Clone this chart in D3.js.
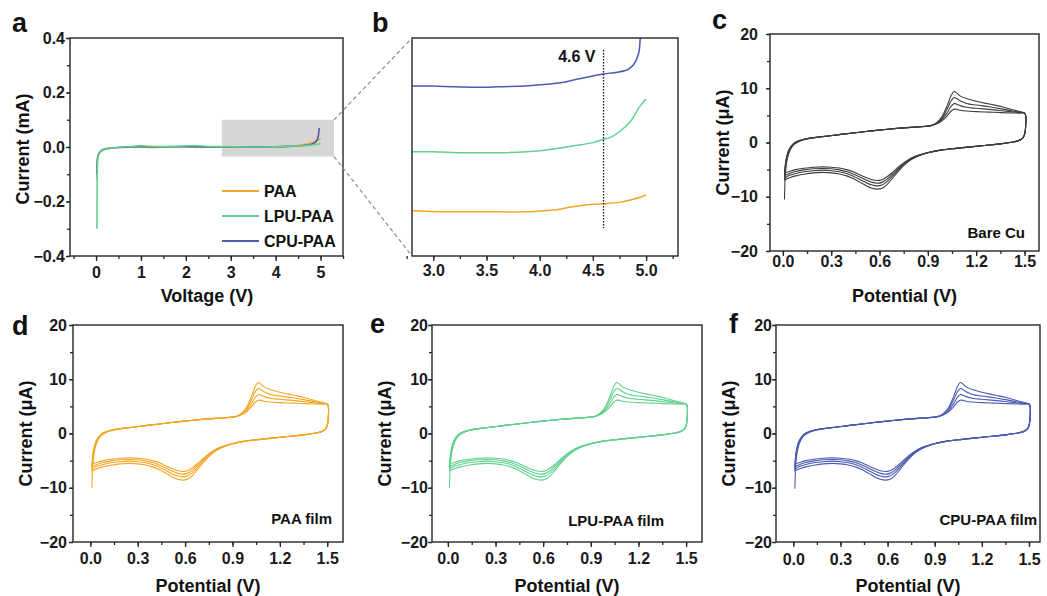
<!DOCTYPE html>
<html>
<head>
<meta charset="utf-8">
<script src="https://cdn.jsdelivr.net/npm/d3@7"></script>
<style>
  body { margin: 0; background: #fff; }
  svg { display: block; font-family: "Liberation Sans", Arial, sans-serif; font-weight: bold; }
</style>
</head>
<body>
<svg id="fig" width="1047" height="596"></svg>
<script>
// ---------- LSV data (panel a): [voltage V, current mA] ----------
const lsvNames = ["PAA", "LPU-PAA", "CPU-PAA"];
const lsvPAA = [[0.02,-0.12],[0.025,-0.06],[0.04,-0.032],[0.08,-0.02],[0.15,-0.011],[0.3,-0.005],[0.5,-0.002],[1.0,0.0],[1.2,-0.002],[1.5,0.0],[2.0,0.001],[2.5,0.0],[3.0,0.0],[3.5,0.0],[4.0,0.001],[4.3,0.003],[4.6,0.008],[4.8,0.015],[4.95,0.025],[5.0,0.03]];
const lsvLPU = [[0.02,-0.30],[0.022,-0.2],[0.028,-0.09],[0.04,-0.04],[0.08,-0.022],[0.15,-0.012],[0.3,-0.005],[0.5,-0.001],[0.8,0.002],[1.0,0.005],[1.2,0.003],[1.5,0.002],[2.0,0.004],[2.2,0.005],[2.5,0.002],[3.0,0.001],[3.5,0.0],[4.0,0.001],[4.5,0.004],[4.8,0.007],[5.0,0.012]];
const lsvCPU = [[0.02,-0.1],[0.03,-0.045],[0.08,-0.02],[0.2,-0.007],[0.5,-0.002],[1.0,0.001],[2.0,0.001],[3.0,0.0],[4.0,0.001],[4.5,0.004],[4.8,0.01],[4.9,0.02],[4.95,0.04],[4.97,0.07]];
const lsvXTicks = [0, 1, 2, 3, 4, 5];
const lsvYTicks = [-0.4, -0.2, 0.0, 0.2, 0.4];
const zoomWindow = { x0: 2.8, x1: 5.3, y0: -0.035, y1: 0.1 };

// ---------- Magnified, vertically offset curves (panel b): [voltage V, offset current a.u.] ----------
const zoomPAA = [[2.8,20.8],[3.0,20.4],[3.5,20.3],[3.88,20.3],[4.13,21.1],[4.31,22.6],[4.5,23.7],[4.6,24.0],[4.75,24.6],[4.88,26.0],[5.0,28.0]];
const zoomLPU = [[2.8,47.8],[3.0,47.8],[3.28,47.4],[3.63,47.4],[4.0,48.3],[4.31,50.5],[4.5,52.0],[4.6,53.5],[4.66,54.3],[4.75,57.0],[4.85,61.6],[4.94,68.5],[5.0,72.0]];
const zoomCPU = [[2.8,78.0],[3.0,78.0],[3.2,77.6],[3.4,77.4],[3.6,77.6],[3.9,78.1],[4.15,79.2],[4.32,80.7],[4.5,82.6],[4.6,83.5],[4.7,84.1],[4.82,85.3],[4.88,87.6],[4.93,93.0],[4.945,100],[4.95,106]];
const zoomXTicks = [3.0, 3.5, 4.0, 4.5, 5.0];
const onsetV = 4.6;
const onsetSpan = [12.8, 94.5];

// ---------- CV cycles (panels c-f): [potential V, current µA] ----------
const cvCycle1 = [[0.01,-10.5],[0.012,-8.0],[0.015,-6.0],[0.02,-4.4],[0.027,-3.1],[0.037,-2.0],[0.05,-1.1],[0.07,-0.35],[0.1,0.2],[0.14,0.6],[0.2,0.9],[0.28,1.2],[0.36,1.5],[0.45,1.8],[0.55,2.15],[0.65,2.45],[0.75,2.7],[0.84,2.85],[0.9,3.0],
  [0.93,3.2],[0.96,3.8],[0.99,4.9],[1.02,6.8],[1.045,8.7],[1.062,9.4],[1.08,9.1],[1.1,8.6],[1.14,8.1],[1.2,7.6],[1.28,7.1],[1.36,6.6],[1.42,6.1],[1.47,5.7],[1.5,5.45],
  [1.507,5.0],[1.508,3.6],[1.505,2.2],[1.498,1.3],[1.485,0.7],[1.46,0.3],[1.42,0.05],[1.35,-0.25],[1.25,-0.55],[1.15,-0.85],[1.05,-1.15],[0.97,-1.45],[0.9,-1.9],[0.85,-2.4],[0.8,-3.1],[0.76,-4.0],[0.72,-5.2],[0.68,-6.6],[0.645,-7.8],[0.615,-8.45],[0.585,-8.6],[0.555,-8.45],[0.52,-8.0],[0.48,-7.35],[0.44,-6.7],[0.4,-6.2],[0.35,-5.8],[0.3,-5.6],[0.25,-5.5],[0.19,-5.6],[0.13,-5.85],[0.08,-6.15],[0.045,-6.45],[0.025,-6.7],[0.01,-7.0]];
const cvCycle2 = [[0.01,-7.0],[0.013,-5.4],[0.018,-4.0],[0.025,-2.8],[0.035,-1.8],[0.05,-0.95],[0.07,-0.25],[0.1,0.25],[0.14,0.62],[0.2,0.92],[0.28,1.2],[0.36,1.5],[0.45,1.8],[0.55,2.15],[0.65,2.45],[0.75,2.7],[0.84,2.87],[0.9,3.02],
  [0.93,3.2],[0.96,3.7],[0.99,4.6],[1.02,6.2],[1.045,7.7],[1.063,8.3],[1.08,8.1],[1.1,7.7],[1.14,7.2],[1.2,6.9],[1.28,6.6],[1.36,6.2],[1.42,5.85],[1.47,5.6],[1.5,5.45],
  [1.507,5.0],[1.508,3.6],[1.505,2.2],[1.498,1.3],[1.485,0.7],[1.46,0.3],[1.42,0.05],[1.35,-0.25],[1.25,-0.55],[1.15,-0.85],[1.05,-1.15],[0.97,-1.45],[0.9,-1.9],[0.85,-2.35],[0.8,-3.0],[0.76,-3.85],[0.72,-4.95],[0.68,-6.2],[0.645,-7.25],[0.615,-7.85],[0.585,-8.0],[0.555,-7.85],[0.52,-7.45],[0.48,-6.85],[0.44,-6.25],[0.4,-5.75],[0.35,-5.4],[0.3,-5.2],[0.25,-5.1],[0.19,-5.2],[0.13,-5.4],[0.08,-5.7],[0.045,-6.0],[0.025,-6.3],[0.01,-6.5]];
const cvCycle3 = [[0.01,-6.5],[0.013,-5.0],[0.018,-3.7],[0.025,-2.6],[0.035,-1.6],[0.05,-0.8],[0.07,-0.15],[0.1,0.3],[0.14,0.65],[0.2,0.93],[0.28,1.2],[0.36,1.5],[0.45,1.8],[0.55,2.15],[0.65,2.45],[0.75,2.7],[0.84,2.88],[0.9,3.03],
  [0.93,3.2],[0.96,3.6],[0.99,4.3],[1.02,5.5],[1.045,6.7],[1.064,7.2],[1.08,7.05],[1.1,6.8],[1.14,6.5],[1.2,6.3],[1.28,6.1],[1.36,5.85],[1.42,5.65],[1.47,5.5],[1.5,5.45],
  [1.507,5.0],[1.508,3.6],[1.505,2.2],[1.498,1.3],[1.485,0.7],[1.46,0.3],[1.42,0.05],[1.35,-0.25],[1.25,-0.55],[1.15,-0.85],[1.05,-1.15],[0.97,-1.45],[0.9,-1.88],[0.85,-2.3],[0.8,-2.9],[0.76,-3.7],[0.72,-4.7],[0.68,-5.85],[0.645,-6.8],[0.615,-7.35],[0.585,-7.5],[0.555,-7.35],[0.52,-6.95],[0.48,-6.4],[0.44,-5.85],[0.4,-5.4],[0.35,-5.05],[0.3,-4.85],[0.25,-4.8],[0.19,-4.85],[0.13,-5.05],[0.08,-5.35],[0.045,-5.65],[0.025,-5.9],[0.01,-6.1]];
const cvCycle4 = [[0.01,-6.1],[0.013,-4.7],[0.018,-3.4],[0.025,-2.4],[0.035,-1.45],[0.05,-0.7],[0.07,-0.1],[0.1,0.35],[0.14,0.67],[0.2,0.94],[0.28,1.2],[0.36,1.5],[0.45,1.8],[0.55,2.15],[0.65,2.45],[0.75,2.7],[0.84,2.9],[0.9,3.05],
  [0.93,3.2],[0.96,3.5],[0.99,4.05],[1.02,4.9],[1.045,5.8],[1.065,6.15],[1.08,6.1],[1.1,5.95],[1.14,5.8],[1.2,5.7],[1.28,5.6],[1.36,5.5],[1.42,5.45],[1.47,5.42],[1.5,5.4],
  [1.507,5.0],[1.508,3.6],[1.505,2.2],[1.498,1.3],[1.485,0.7],[1.46,0.3],[1.42,0.05],[1.35,-0.25],[1.25,-0.55],[1.15,-0.85],[1.05,-1.15],[0.97,-1.45],[0.9,-1.85],[0.85,-2.25],[0.8,-2.8],[0.76,-3.55],[0.72,-4.45],[0.68,-5.5],[0.645,-6.35],[0.615,-6.85],[0.585,-7.0],[0.555,-6.85],[0.52,-6.5],[0.48,-6.0],[0.44,-5.45],[0.4,-5.05],[0.35,-4.7],[0.3,-4.55],[0.25,-4.5],[0.19,-4.55],[0.13,-4.75],[0.08,-5.0],[0.045,-5.3],[0.025,-5.5],[0.01,-5.6]];
const cvStartCurrent = [-10.5, -10.0, -10.0, -10.2];   // first point of cycle 1 per electrode
const cvLabels = ["Bare Cu", "PAA film", "LPU-PAA film", "CPU-PAA film"];
const cvXTicks = [0.0, 0.3, 0.6, 0.9, 1.2, 1.5];
const cvYTicks = [-20, -10, 0, 10, 20];

// ---------- styling ----------
const colPAA = "#f3a624", colLPU = "#62d08f", colCPU = "#4a5bb0", colCu = "#3d3d3d";
const ink = "#262626";

const svg = d3.select("#fig");
let clipId = 0;

function panel(box, xDom, yDom, ax) {
  const g = svg.append("g");
  const x = d3.scaleLinear().domain(xDom).range([box.x0, box.x1]);
  const y = d3.scaleLinear().domain(yDom).range([box.y1, box.y0]);
  const id = "clip" + (clipId++);
  g.append("clipPath").attr("id", id).append("rect")
    .attr("x", box.x0).attr("y", box.y0).attr("width", box.x1 - box.x0).attr("height", box.y1 - box.y0);
  const plot = g.append("g").attr("clip-path", `url(#${id})`);

  const style = sel => {
    sel.select(".domain").remove();
    sel.selectAll("line").attr("stroke", ink).attr("stroke-width", 1.3);
    sel.selectAll("text").attr("fill", "#1a1a1a").style("font-size", "16px")
      .style("font-weight", "bold").style("font-family", '"Liberation Sans", Arial, sans-serif');
  };
  const bx = g.append("g").attr("transform", `translate(0,${box.y1})`);
  bx.append("g").call(d3.axisBottom(x).tickValues(ax.xMinor).tickSize(3).tickFormat("")).call(style);
  bx.append("g").call(d3.axisBottom(x).tickValues(ax.xTicks).tickSize(5).tickPadding(ax.xPad).tickFormat(ax.xFmt)).call(style);
  if (ax.yTicks) {
    const by = g.append("g").attr("transform", `translate(${box.x0},0)`);
    by.append("g").call(d3.axisLeft(y).tickValues(ax.yMinor).tickSize(3).tickFormat("")).call(style);
    by.append("g").call(d3.axisLeft(y).tickValues(ax.yTicks).tickSize(4).tickPadding(ax.yPad).tickFormat(ax.yFmt)).call(style);
  }
  return { g, plot, x, y, box };
}

function frame(p) {
  p.g.append("rect").attr("x", p.box.x0).attr("y", p.box.y0)
    .attr("width", p.box.x1 - p.box.x0).attr("height", p.box.y1 - p.box.y0)
    .attr("fill", "none").attr("stroke", ink).attr("stroke-width", 1.4);
}

function text(str, x, y, size, anchor, rotate) {
  const t = svg.append("text").text(str).attr("fill", "#111")
    .style("font-size", size + "px").attr("text-anchor", anchor || "start");
  if (rotate) t.attr("transform", `translate(${x},${y}) rotate(-90)`);
  else t.attr("x", x).attr("y", y);
  return t;
}

const range = (a, b, s) => d3.range(a, b + s / 2, s);

// ---------- panel a ----------
const pa = panel({ x0: 70, x1: 343, y0: 38, y1: 256 }, [-0.58, 5.5], [-0.4, 0.4], {
  xTicks: lsvXTicks, xMinor: range(-0.5, 5.5, 0.5), xPad: 6, xFmt: d3.format("d"),
  yTicks: lsvYTicks, yMinor: range(-0.4, 0.4, 0.1), yFmt: d3.format(".1f"), yPad: 1
});
pa.plot.append("rect")
  .attr("x", pa.x(zoomWindow.x0)).attr("y", pa.y(zoomWindow.y1))
  .attr("width", pa.x(zoomWindow.x1) - pa.x(zoomWindow.x0))
  .attr("height", pa.y(zoomWindow.y0) - pa.y(zoomWindow.y1))
  .attr("fill", "#d6d6d6");
const lineA = d3.line().x(d => pa.x(d[0])).y(d => pa.y(d[1])).curve(d3.curveMonotoneX);
[[lsvPAA, colPAA], [lsvCPU, colCPU], [lsvLPU, colLPU]].forEach(([d, c]) => {
  pa.plot.append("path").datum(d).attr("d", lineA).attr("fill", "none").attr("stroke", c).attr("stroke-width", 1.6);
});
frame(pa);
// legend
[[lsvNames[0], colPAA], [lsvNames[1], colLPU], [lsvNames[2], colCPU]].forEach(([n, c], i) => {
  const yy = 191 + i * 25;
  svg.append("line").attr("x1", 222).attr("x2", 259).attr("y1", yy).attr("y2", yy)
    .attr("stroke", c).attr("stroke-width", 1.8);
  text(n, 264, yy + 6, 16);
});
text("Current (mA)", 29, 149, 18, "middle", true);
text("Voltage (V)", 207, 302, 18, "middle");
text("a", 12, 32, 27);

// ---------- panel b ----------
const pb = panel({ x0: 412, x1: 678, y0: 38, y1: 256 }, [zoomWindow.x0, zoomWindow.x1], [0, 100], {
  xTicks: zoomXTicks, xMinor: range(2.75, 5.25, 0.25), xPad: 4, xFmt: d3.format(".1f")
});
const lineB = d3.line().x(d => pb.x(d[0])).y(d => pb.y(d[1])).curve(d3.curveCatmullRom.alpha(0.5));
[[zoomPAA, colPAA], [zoomLPU, colLPU], [zoomCPU, colCPU]].forEach(([d, c]) => {
  pb.plot.append("path").datum(d).attr("d", lineB).attr("fill", "none").attr("stroke", c).attr("stroke-width", 1.5);
});
pb.plot.append("line").attr("x1", pb.x(onsetV)).attr("x2", pb.x(onsetV))
  .attr("y1", pb.y(onsetSpan[1])).attr("y2", pb.y(onsetSpan[0]))
  .attr("stroke", "#111").attr("stroke-width", 1.3).attr("stroke-dasharray", "1.5,1.5");
frame(pb);
text(onsetV + " V", pb.x(onsetV) - 8, 62, 16, "end");
text("b", 372, 32, 27);

// dashed connectors from the highlighted window in a to panel b
[[zoomWindow.y1, pb.box.y0], [zoomWindow.y0, pb.box.y1]].forEach(([v, yb]) => {
  svg.append("line")
    .attr("x1", pa.x(zoomWindow.x1)).attr("y1", pa.y(v))
    .attr("x2", pb.box.x0).attr("y2", yb)
    .attr("stroke", "#8c8c8c").attr("stroke-width", 1.2).attr("stroke-dasharray", "4,3");
});

// ---------- panels c-f ----------
const cvPanels = [
  { box: { x0: 770, x1: 1039, y0: 34, y1: 251 }, xDom: [-0.08, 1.59], xPad: 0, yPad: 8, letter: ["c", 712, 29], label: [1025, 238], title: 51 },
  { box: { x0: 73, x1: 343, y0: 325, y1: 542 }, xDom: [-0.11, 1.6], xPad: 6, yPad: 2, letter: ["d", 12, 335], label: [332, 524], title: 50 },
  { box: { x0: 432, x1: 702, y0: 325, y1: 542 }, xDom: [-0.1, 1.6], xPad: 6, yPad: 0, letter: ["e", 370, 333], label: [664, 526], title: 50 },
  { box: { x0: 776, x1: 1040, y0: 325, y1: 542 }, xDom: [-0.11, 1.57], xPad: 7, yPad: 0, letter: ["f", 729, 333], label: [1037, 525], title: 50 }
];
const cvColors = [colCu, colPAA, colLPU, colCPU];
const cycles = [cvCycle1, cvCycle2, cvCycle3, cvCycle4];

cvPanels.forEach((cfg, k) => {
  const box = cfg.box;
  const p = panel(box, cfg.xDom, [-20, 20], {
    xTicks: cvXTicks, xMinor: range(-0.15, 1.65, 0.15).filter(v => v >= cfg.xDom[0] && v <= cfg.xDom[1]), xPad: cfg.xPad, xFmt: d3.format(".1f"),
    yTicks: cvYTicks, yMinor: range(-20, 20, 5), yFmt: d3.format("d"), yPad: cfg.yPad
  });
  const line = d3.line().x(d => p.x(d[0])).y(d => p.y(d[1])).curve(d3.curveCatmullRom.alpha(0.5));
  cycles.forEach((cyc, i) => {
    const data = i === 0 ? [[cyc[0][0], cvStartCurrent[k]], ...cyc.slice(1)] : cyc;
    p.plot.append("path").datum(data).attr("d", line).attr("fill", "none")
      .attr("stroke", cvColors[k]).attr("stroke-width", 1.1);
  });
  frame(p);
  text(cvLabels[k], cfg.label[0], cfg.label[1], 15, "end");
  const midY = (box.y0 + box.y1) / 2;
  text("Current (μA)", box.x0 - 41, midY, 18, "middle", true);
  text("Potential (V)", (box.x0 + box.x1) / 2, box.y1 + cfg.title, 18, "middle");
  text(cfg.letter[0], cfg.letter[1], cfg.letter[2], 27);
});
</script>
</body>
</html>
